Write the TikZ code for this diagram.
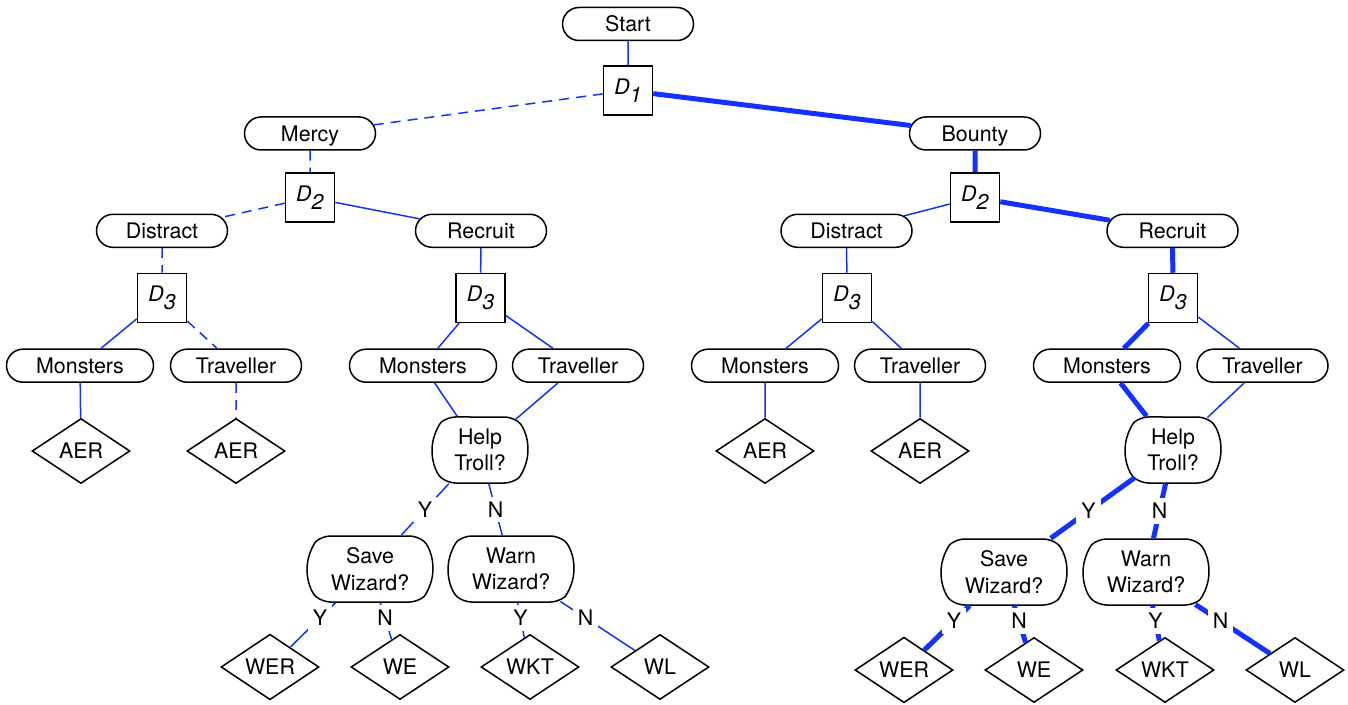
\documentclass[tikz,border=0pt]{standalone}
\usepackage{fontspec}
\setmainfont{TeX Gyre Heros}
\usetikzlibrary{shapes.misc,shapes.geometric,calc}
\definecolor{lnblue}{RGB}{20,50,255}
\newcommand{\dsub}[1]{\textit{D}\raisebox{-4.2pt}{\textit{#1}}}
\begin{document}
\begin{tikzpicture}[x=0.5pt,y=-0.5pt,
  every node/.style={font=\fontsize{10.7}{13.3}\selectfont, text=black},
  pill/.style={draw=black, line width=0.75pt, rounded rectangle, minimum width=65.5pt, minimum height=16.5pt, inner sep=0pt, text height=7.7pt, text depth=0pt},
  widepill/.style={pill, minimum width=73.5pt},
  ques/.style={draw=black, line width=0.75pt, rounded rectangle, rounded rectangle arc length=100, rounded corners=4pt, minimum width=63pt, minimum height=33pt, align=center, inner sep=0pt},
  quesn/.style={ques, minimum width=48pt},
  dec/.style={draw=black, line width=0.75pt, rectangle, minimum size=24.5pt, inner sep=0pt},
  leaf/.style={draw=black, line width=0.75pt, diamond, minimum width=49pt, minimum height=32.5pt, inner sep=0pt},
  thn/.style={draw=lnblue, line width=0.75pt},
  dsh/.style={thn, dash pattern=on 5pt off 3.5pt},
  thk/.style={draw=lnblue, line width=2.5pt},
  lbl/.style={fill=white, inner sep=2.5pt}
]
\useasboundingbox (0,0) rectangle (1348,705);

% nodes
\node[pill] (Start) at (628,24) {Start};
\node[dec] (D1) at (628,90.5) {\dsub{1}};
\node[pill] (Mercy) at (310,133.5) {Mercy};
\node[pill] (Bounty) at (975,133.5) {Bounty};
\node[dec] (D2a) at (310,197.5) {\dsub{2}};
\node[dec] (D2b) at (975,197.5) {\dsub{2}};
\node[pill] (DisA) at (162,230.8) {Distract};
\node[pill] (RecA) at (481,230.8) {Recruit};
\node[pill] (DisB) at (846.5,230.8) {Distract};
\node[pill] (RecB) at (1172.5,230.8) {Recruit};
\node[dec] (D3a) at (162,298) {\dsub{3}};
\node[dec] (D3b) at (480.5,298) {\dsub{3}};
\node[dec] (D3c) at (847,298) {\dsub{3}};
\node[dec] (D3d) at (1173,298) {\dsub{3}};
\node[widepill] (MonA) at (80,365.7) {Monsters};
\node[pill] (TraA) at (236,365.7) {Traveller};
\node[widepill] (MonB) at (423,365.7) {Monsters};
\node[pill] (TraB) at (578,365.7) {Traveller};
\node[widepill] (MonC) at (765,365.7) {Monsters};
\node[pill] (TraC) at (920,365.7) {Traveller};
\node[widepill] (MonD) at (1107,365.7) {Monsters};
\node[pill] (TraD) at (1262.5,365.7) {Traveller};
\node[leaf] (AER1) at (81,451) {AER};
\node[leaf] (AER2) at (236,451) {AER};
\node[leaf] (AER3) at (765,451) {AER};
\node[leaf] (AER4) at (920,451) {AER};
\node[quesn] (HelpB) at (480,450) {Help\\Troll?};
\node[quesn] (HelpD) at (1173,450) {Help\\Troll?};
\node[ques] (SaveB) at (370,569) {Save\\Wizard?};
\node[ques] (WarnB) at (511,569) {Warn\\Wizard?};
\node[ques] (SaveD) at (1004,572) {Save\\Wizard?};
\node[ques] (WarnD) at (1146,572) {Warn\\Wizard?};
\node[leaf] (WERb) at (270,667) {WER};
\node[leaf] (WEb) at (400,667) {WE};
\node[leaf] (WKTb) at (530,667) {WKT};
\node[leaf] (WLb) at (660,667) {WL};
\node[leaf] (WERd) at (904,670) {WER};
\node[leaf] (WEd) at (1034,670) {WE};
\node[leaf] (WKTd) at (1165,670) {WKT};
\node[leaf] (WLd) at (1295,670) {WL};

% connectors
\draw[thn] (Start) -- (D1);
\draw[dsh] (D1) -- (Mercy);
\draw[thk] (D1) -- (Bounty);
% Mercy subtree
\draw[dsh] (Mercy) -- (D2a);
\draw[dsh] (D2a) -- (DisA);
\draw[thn] (D2a) -- (RecA);
\draw[dsh] (DisA) -- (D3a);
\draw[thn] (D3a) -- (MonA);
\draw[dsh] (D3a) -- (TraA);
\draw[thn] (MonA) -- (AER1);
\draw[dsh] (TraA) -- (AER2);
\draw[thn] (RecA) -- (D3b);
\draw[thn] (D3b) -- (MonB);
\draw[thn] (D3b) -- (TraB);
\draw[thn] (MonB) -- (HelpB);
\draw[thn] (TraB) -- (HelpB);
\draw[thn] (HelpB) -- (SaveB);
\draw[thn] (HelpB) -- (WarnB);
\draw[thn] (SaveB) -- (WERb);
\draw[thn] (SaveB) -- (WEb);
\draw[thn] (WarnB) -- (WKTb);
\draw[thn] (WarnB) -- (WLb);
% Bounty subtree
\draw[thk] (Bounty) -- (D2b);
\draw[thn] (D2b) -- (DisB);
\draw[thk] (D2b) -- (RecB);
\draw[thn] (DisB) -- (D3c);
\draw[thn] (D3c) -- (MonC);
\draw[thn] (D3c) -- (TraC);
\draw[thn] (MonC) -- (AER3);
\draw[thn] (TraC) -- (AER4);
\draw[thk] (RecB) -- (D3d);
\draw[thk] (D3d) -- (MonD);
\draw[thn] (D3d) -- (TraD);
\draw[thk] (MonD) -- (HelpD);
\draw[thn] (TraD) -- (HelpD);
\draw[thk] (HelpD) -- (SaveD);
\draw[thk] (HelpD) -- (WarnD);
\draw[thk] (SaveD) -- (WERd);
\draw[thk] (SaveD) -- (WEd);
\draw[thk] (WarnD) -- (WKTd);
\draw[thk] (WarnD) -- (WLd);

% labels
\node[lbl] (l1) at ($(HelpB)!0.5!(SaveB)$) {Y};
\node[lbl] (l2) at ($(HelpB)!0.5!(WarnB)$) {N};
\node[lbl] (l3) at ($(SaveB)!0.5!(WERb)$) {Y};
\node[lbl] (l4) at ($(SaveB)!0.5!(WEb)$) {N};
\node[lbl] (l5) at ($(WarnB)!0.5!(WKTb)$) {Y};
\node[lbl] (l6) at ($(WarnB)!0.5!(WLb)$) {N};
\node[lbl] (l7) at ($(HelpD)!0.5!(SaveD)$) {Y};
\node[lbl] (l8) at ($(HelpD)!0.5!(WarnD)$) {N};
\node[lbl] (l9) at ($(SaveD)!0.5!(WERd)$) {Y};
\node[lbl] (l10) at ($(SaveD)!0.5!(WEd)$) {N};
\node[lbl] (l11) at ($(WarnD)!0.5!(WKTd)$) {Y};
\node[lbl] (l12) at ($(WarnD)!0.5!(WLd)$) {N};
\end{tikzpicture}
\end{document}
